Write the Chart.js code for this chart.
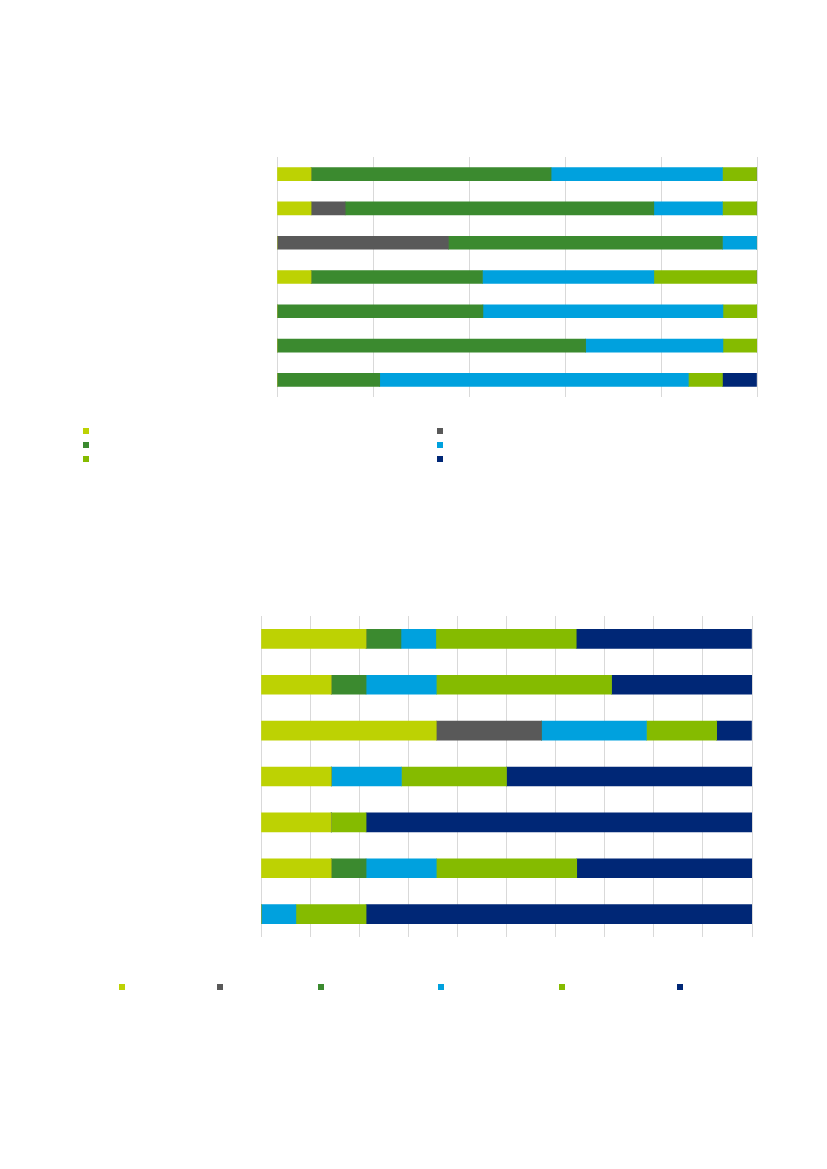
<!DOCTYPE html>
<html>
<head>
<meta charset="utf-8">
<script src="https://cdn.jsdelivr.net/npm/chart.js@4.4.0/dist/chart.umd.min.js"></script>
<style>
  body { margin: 0; background: #fff; width: 827px; height: 1169px; position: relative; overflow: hidden; font-family: "Liberation Sans", Arial, sans-serif; }
  .box { position: absolute; left: 0; width: 827px; }
  .mark { position: absolute; width: 6px; height: 6px; }
</style>
</head>
<body>
<div class="box" id="box1" style="top:140px;height:280px"><canvas id="c1"></canvas></div>
<div class="box" id="box2" style="top:600px;height:350px"><canvas id="c2"></canvas></div>
<div id="leg1"></div>
<div id="leg2"></div>
<script>
// row labels are blank in the reference
var categories1 = ['', '', '', '', '', '', ''];
var categories2 = ['', '', '', '', '', '', ''];
var seriesNames = ['', '', '', '', '', ''];
var seriesColors = ['#bdd203', '#595959', '#3b8a2f', '#00a1de', '#85bb00', '#002776'];

// first chart, shares in %
var yellow1 = [7.1, 7.1, 0, 7.1, 0, 0, 0];
var gray1 = [0, 7.1, 35.7, 0, 0, 0, 0];
var green1 = [50, 64.3, 57.1, 35.7, 42.9, 64.3, 21.4];
var blue1 = [35.7, 14.3, 7.1, 35.7, 50, 28.6, 64.3];
var lime1 = [7.1, 7.1, 0, 21.4, 7.1, 7.1, 7.1];
var navy1 = [0, 0, 0, 0, 0, 0, 7.1];

// second chart, shares in %
var yellow2 = [21.4, 14.3, 35.7, 14.3, 14.3, 14.3, 0];
var gray2 = [0, 0, 21.4, 0, 0, 0, 0];
var green2 = [7.1, 7.1, 0, 0, 0, 7.1, 0];
var blue2 = [7.1, 14.3, 21.4, 14.3, 0, 14.3, 7.1];
var lime2 = [28.6, 35.7, 14.3, 21.4, 7.1, 28.6, 14.3];
var navy2 = [35.7, 28.6, 7.1, 50, 78.6, 35.7, 78.6];

function makeSets(list, thick) {
  return list.map(function (d, i) {
    return {
      label: seriesNames[i],
      data: d,
      backgroundColor: seriesColors[i],
      borderWidth: 0,
      barThickness: thick
    };
  });
}

function opts(pad, step) {
  return {
    indexAxis: 'y',
    responsive: true,
    maintainAspectRatio: false,
    animation: false,
    layout: { padding: pad },
    plugins: { legend: { display: false }, tooltip: { enabled: false } },
    scales: {
      x: {
        stacked: true, min: 0, max: 100,
        ticks: { display: false, stepSize: step },
        grid: { color: '#d9d9d9', lineWidth: 1, drawTicks: false },
        border: { display: false }
      },
      y: { stacked: true, display: false }
    }
  };
}

new Chart(document.getElementById('c1'), {
  type: 'bar',
  data: { labels: categories1, datasets: makeSets([yellow1, gray1, green1, blue1, lime1, navy1], 13) },
  options: opts({ left: 277, right: 70, top: 17, bottom: 23 }, 20)
});

new Chart(document.getElementById('c2'), {
  type: 'bar',
  data: { labels: categories2, datasets: makeSets([yellow2, gray2, green2, blue2, lime2, navy2], 19) },
  options: opts({ left: 261, right: 75, top: 16, bottom: 13 }, 10)
});

// legends (labels are empty in the reference, only the colour keys show)
function legend(id, spots) {
  var el = document.getElementById(id);
  spots.forEach(function (p, i) {
    var m = document.createElement('div');
    m.className = 'mark';
    m.style.left = p[0] + 'px';
    m.style.top = p[1] + 'px';
    m.style.background = seriesColors[i];
    m.title = seriesNames[i];
    el.appendChild(m);
  });
}
legend('leg1', [[83, 428], [437, 428], [83, 442], [437, 442], [83, 456], [437, 456]]);
legend('leg2', [[119, 984], [217, 984], [318, 984], [438, 984], [559, 984], [677, 984]]);
// reorder colour keys of chart 1: column-wise in two columns
(function () {
  var el = document.getElementById('leg1').children;
  var pos = [[83, 428], [437, 428], [83, 442], [437, 442], [83, 456], [437, 456]];
  for (var i = 0; i < el.length; i++) { el[i].style.left = pos[i][0] + 'px'; el[i].style.top = pos[i][1] + 'px'; }
})();
</script>
</body>
</html>
